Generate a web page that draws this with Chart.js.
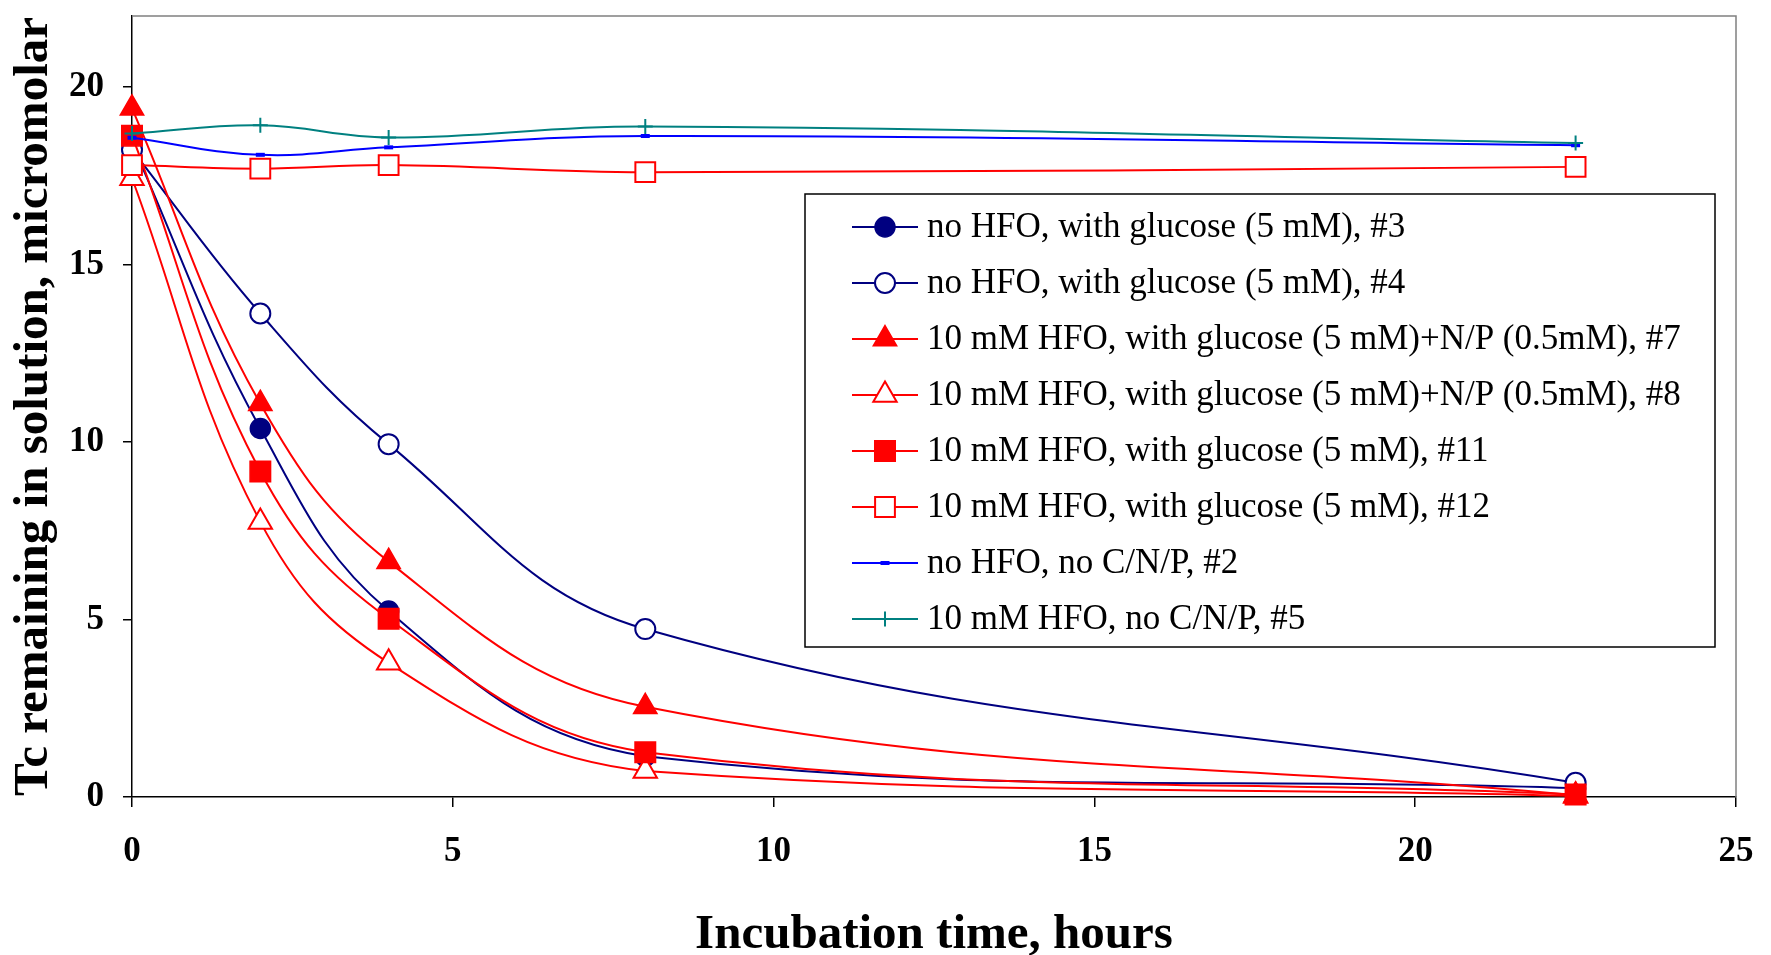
<!DOCTYPE html>
<html>
<head>
<meta charset="utf-8">
<script src="https://cdn.jsdelivr.net/npm/chart.js@4.4.0/dist/chart.umd.min.js"></script>
<style>
  html, body { margin: 0; padding: 0; background: #fff; }
</style>
</head>
<body>
<canvas id="chart" width="1771" height="955"></canvas>
<script>
// sampling times (hours)
const hours = [0, 2, 4, 8, 22.5];

// Tc remaining, micromolar
const run3  = [18.4, 10.38, 5.24, 1.15, 0.25];
const run4  = [18.23, 13.62, 9.94, 4.73, 0.4];
const run7  = [19.4, 11.08, 6.63, 2.54, 0.05];
const run8  = [17.43, 7.75, 3.78, 0.73, 0.03];
const run11 = [18.63, 9.17, 5.02, 1.26, 0.07];
const run12 = [17.8, 17.7, 17.8, 17.6, 17.75];
const run2  = [18.57, 18.09, 18.3, 18.62, 18.36];
const run5  = [18.69, 18.92, 18.58, 18.89, 18.42];

const labels = [
  'no HFO, with glucose (5 mM), #3',
  'no HFO, with glucose (5 mM), #4',
  '10 mM HFO, with glucose (5 mM)+N/P (0.5mM), #7',
  '10 mM HFO, with glucose (5 mM)+N/P (0.5mM), #8',
  '10 mM HFO, with glucose (5 mM), #11',
  '10 mM HFO, with glucose (5 mM), #12',
  'no HFO, no C/N/P, #2',
  '10 mM HFO, no C/N/P, #5'
];

const serif = 'Liberation Serif, Times New Roman, serif';

function series(i, values, color, style, radius, fill, pbw) {
  return {
    label: labels[i],
    data: hours.map((x, k) => ({ x: x, y: values[k] })),
    borderColor: color,
    borderWidth: 2,
    tension: 0.4,
    pointStyle: style,
    pointRadius: radius,
    pointHoverRadius: radius,
    pointBackgroundColor: fill,
    pointBorderColor: color,
    pointBorderWidth: pbw,
    clip: false,
    order: 7 - i   // later series on top, like the original
  };
}

const datasets = [
  series(0, run3,  '#000080', 'circle',   10,   '#000080', 1.5),
  series(1, run4,  '#000080', 'circle',   10,   '#ffffff', 2),
  series(2, run7,  '#ff0000', 'triangle', 13.5, '#ff0000', 1.5),
  series(3, run8,  '#ff0000', 'triangle', 13.5, '#ffffff', 2),
  series(4, run11, '#ff0000', 'rect',     14.5, '#ff0000', 1.5),
  series(5, run12, '#ff0000', 'rect',     14,   '#ffffff', 2),
  series(6, run2,  '#0000ff', 'line',     4.5,  '#0000ff', 4),
  series(7, run5,  '#008080', 'cross',    7.5,  '#008080', 2)
];

// gray frame on top/right of the plot
const frame = {
  id: 'frame',
  beforeDatasetsDraw(chart) {
    const a = chart.chartArea, ctx = chart.ctx;
    ctx.save();
    ctx.strokeStyle = '#808080';
    ctx.lineWidth = 1.5;
    ctx.beginPath();
    ctx.moveTo(a.left, a.top);
    ctx.lineTo(a.right, a.top);
    ctx.lineTo(a.right, a.bottom);
    ctx.stroke();
    ctx.restore();
  }
};

// boxed legend inside the plot
const boxLegend = {
  id: 'boxLegend',
  afterDatasetsDraw(chart) {
    const ctx = chart.ctx;
    ctx.save();
    ctx.fillStyle = '#fff';
    ctx.fillRect(805, 194, 910, 453);
    ctx.strokeStyle = '#000';
    ctx.lineWidth = 1.5;
    ctx.strokeRect(805, 194, 910, 453);
    chart.data.datasets.forEach((d, i) => {
      const y = 227 + i * 56;
      ctx.strokeStyle = d.borderColor;
      ctx.lineWidth = 2;
      ctx.beginPath();
      ctx.moveTo(852, y);
      ctx.lineTo(918, y);
      ctx.stroke();
      ctx.fillStyle = d.pointBackgroundColor;
      ctx.strokeStyle = d.pointBorderColor;
      ctx.lineWidth = d.pointBorderWidth;
      Chart.helpers.drawPoint(ctx, {
        pointStyle: d.pointStyle, radius: d.pointRadius,
        rotation: 0, borderWidth: d.pointBorderWidth
      }, 885, y);
      ctx.fillStyle = '#000';
      ctx.font = '35px ' + serif;
      ctx.textBaseline = 'middle';
      ctx.textAlign = 'left';
      ctx.fillText(d.label, 927, y + 1);
    });
    ctx.restore();
  }
};

new Chart(document.getElementById('chart'), {
  type: 'line',
  data: { datasets: datasets },
  plugins: [frame, boxLegend],
  options: {
    responsive: false,
    devicePixelRatio: 1,
    animation: false,
    layout: { padding: { top: 13, right: 35, left: 0, bottom: 0 } },
    plugins: {
      legend: { display: false },
      tooltip: { enabled: false }
    },
    scales: {
      x: {
        type: 'linear',
        min: 0,
        max: 25,
        ticks: {
          stepSize: 5,
          padding: 24,
          color: '#000',
          font: { family: serif, size: 35, weight: 'bold' }
        },
        grid: { drawOnChartArea: false, drawTicks: true, tickLength: 10, color: '#000', lineWidth: 1.5 },
        border: { color: '#000', width: 1.5 },
        title: {
          display: true,
          text: 'Incubation time, hours',
          color: '#000',
          padding: { top: 0, bottom: 0 },
          font: { family: serif, size: 49, weight: 'bold', lineHeight: 0.8 }
        },
        afterFit(scale) {
          scale.height = 158;
          scale.paddingLeft = 0;
          scale.paddingRight = 0;
        }
      },
      y: {
        min: 0,
        max: 22,
        ticks: {
          stepSize: 5,
          includeBounds: false,
          padding: 19,
          color: '#000',
          font: { family: serif, size: 35, weight: 'bold' }
        },
        grid: { drawOnChartArea: false, drawTicks: true, tickLength: 9, color: '#000', lineWidth: 1.5 },
        border: { color: '#000', width: 1.5 },
        title: {
          display: true,
          text: 'Tc remaining in solution, micromolar',
          color: '#000',
          padding: { top: 10, bottom: 0 },
          font: { family: serif, size: 49, weight: 'bold', lineHeight: 1 }
        },
        afterFit(scale) {
          scale.width = 132;
          scale.paddingTop = 0;
          scale.paddingBottom = 0;
        }
      }
    }
  }
});
</script>
</body>
</html>
